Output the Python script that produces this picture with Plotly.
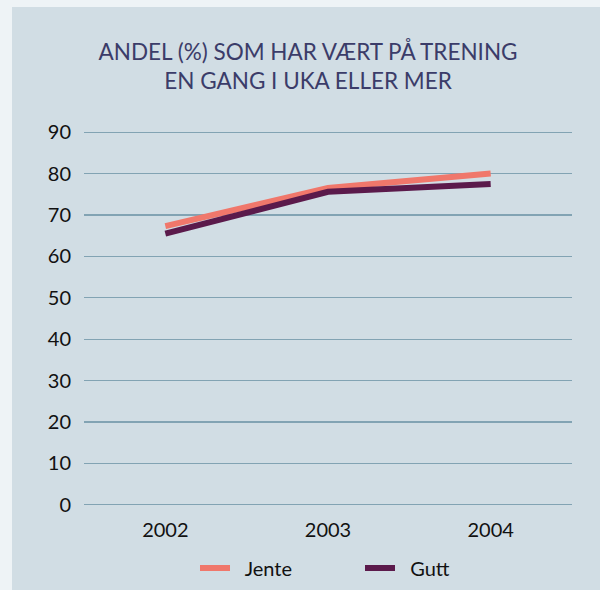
import plotly.graph_objects as go

years = ["2002", "2003", "2004"]
jente = [67.3, 76.5, 80.0]
gutt = [65.5, 75.6, 77.5]
y_ticks = [0, 10, 20, 30, 40, 50, 60, 70, 80, 90]
series_names = ["Jente", "Gutt"]

W, H = 600, 590
L, R, T, B = 84, 28, 128, 81
pw, ph = W - L - R, H - T - B

fig = go.Figure()
fig.add_trace(go.Scatter(x=years, y=jente, mode="lines", name="\u00a0\u00a0" + series_names[0],
                         line=dict(color="#f0776b", width=6)))
fig.add_trace(go.Scatter(x=years, y=gutt, mode="lines", name="\u00a0\u00a0" + series_names[1],
                         line=dict(color="#5b1a4b", width=6)))

def px_x(p):
    return (p - L) / pw

def px_y(p):
    return (H - B - p) / ph

fig.add_shape(type="rect", xref="paper", yref="paper",
              x0=px_x(0), x1=px_x(12), y0=px_y(H), y1=px_y(0),
              fillcolor="#eef3f6", line=dict(width=0), layer="below")
fig.add_shape(type="rect", xref="paper", yref="paper",
              x0=px_x(0), x1=px_x(W), y0=px_y(7), y1=px_y(0),
              fillcolor="#eef3f6", line=dict(width=0), layer="below")

fig.update_layout(
    width=W, height=H,
    margin=dict(l=L, r=R, t=T, b=B, autoexpand=False),
    paper_bgcolor="#d1dde4", plot_bgcolor="#d1dde4",
    font=dict(family="Lato, Open Sans, sans-serif", color="#111111", size=20),
    title=dict(text="ANDEL (%) SOM HAR VÆRT PÅ TRENING<br>EN GANG I UKA ELLER MER",
               x=308 / W, xanchor="center", xref="container",
               y=1 - 60 / H, yanchor="middle", yref="container",
               font=dict(size=22.5, color="#3b3c69")),
    xaxis=dict(type="category", range=[-0.5, 2.5], showgrid=False, showline=False,
               zeroline=False, ticks="", ticklabelstandoff=7,
               tickfont=dict(size=20)),
    yaxis=dict(range=[-1, 91], tickvals=y_ticks, showgrid=True, gridcolor="#82a3b3",
               gridwidth=1.2, zeroline=False, showline=False, ticks="",
               ticklabelstandoff=12, tickfont=dict(size=20)),
    legend=dict(orientation="h", x=195 / W, xref="container", xanchor="left",
                y=1 - 568 / H, yref="container", yanchor="middle",
                font=dict(size=20), entrywidth=120, entrywidthmode="pixels",
                bgcolor="rgba(0,0,0,0)"),
    showlegend=True,
)

fig.write_html("out.html", config={"staticPlot": True, "displayModeBar": False},
               post_script="document.body.style.margin='0';document.body.style.overflow='hidden';")
